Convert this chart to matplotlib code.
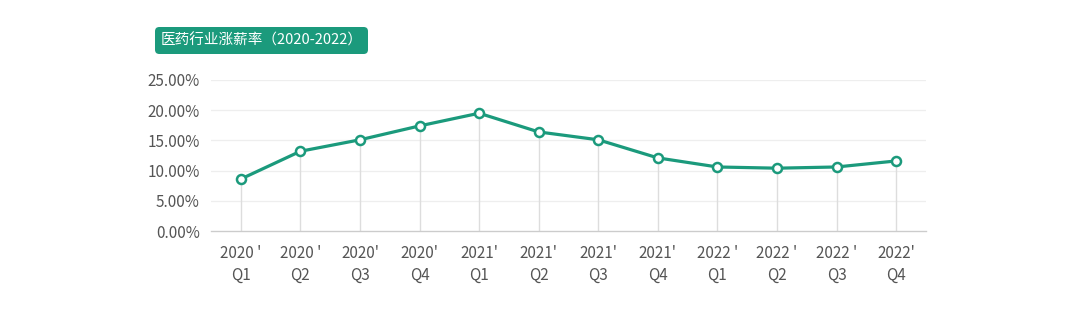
import matplotlib
matplotlib.use('Agg')
import matplotlib.pyplot as plt
from matplotlib.patches import FancyBboxPatch

plt.rcParams['font.family'] = ['Noto Sans CJK SC', 'DejaVu Sans']

# data
quarters = ["2020 '\nQ1", "2020 '\nQ2", "2020'\nQ3", "2020'\nQ4",
            "2021'\nQ1", "2021'\nQ2", "2021'\nQ3", "2021'\nQ4",
            "2022 '\nQ1", "2022 '\nQ2", "2022 '\nQ3", "2022'\nQ4"]
raise_rate = [8.6, 13.2, 15.1, 17.4, 19.5, 16.4, 15.1, 12.1, 10.6, 10.4, 10.6, 11.6]
yticks = [0, 5, 10, 15, 20, 25]
ytick_labels = ['0.00%', '5.00%', '10.00%', '15.00%', '20.00%', '25.00%']
title = '医药行业涨薪率（2020-2022）'

teal = '#1b9a7c'

fig = plt.figure(figsize=(10.79, 3.33), dpi=100)
ax = fig.add_axes([211 / 1079, 1 - 231 / 333, 715 / 1079, 151 / 333])

x = list(range(len(raise_rate)))

# grid and drop lines
for t in yticks[1:]:
    ax.axhline(t, color='#eeeeee', lw=0.9, zorder=0)
ax.vlines(x, 0, raise_rate, color='#dddddd', lw=1, zorder=1)

ax.plot(x, raise_rate, color=teal, lw=2.3, marker='o', markersize=6.5,
        markerfacecolor='white', markeredgecolor=teal, markeredgewidth=1.8, zorder=3)

ax.set_xlim(-0.5, len(x) - 0.5)
ax.set_ylim(0, 25)
ax.set_xticks(x)
ax.set_xticklabels(quarters, fontsize=11, color='#555555', linespacing=1.35)
ax.set_yticks(yticks)
ax.set_yticklabels(ytick_labels, fontsize=11, color='#555555')
ax.tick_params(length=0, pad=10, axis='x')
ax.tick_params(length=0, pad=8, axis='y')

for side in ['top', 'right', 'left']:
    ax.spines[side].set_visible(False)
ax.spines['bottom'].set_color('#cccccc')
ax.spines['bottom'].set_linewidth(1)

# title badge
box = FancyBboxPatch((155 / 1079, 1 - 54 / 333), 213 / 1079, 27 / 333,
                     boxstyle='round,pad=0,rounding_size=0.004',
                     transform=fig.transFigure, facecolor=teal, edgecolor='none',
                     mutation_aspect=1079 / 333)
fig.patches.append(box)
fig.text(262 / 1079, 1 - 40.5 / 333, title, color='white', fontsize=10.5,
         ha='center', va='center')

fig.savefig('out.png', dpi=100)
